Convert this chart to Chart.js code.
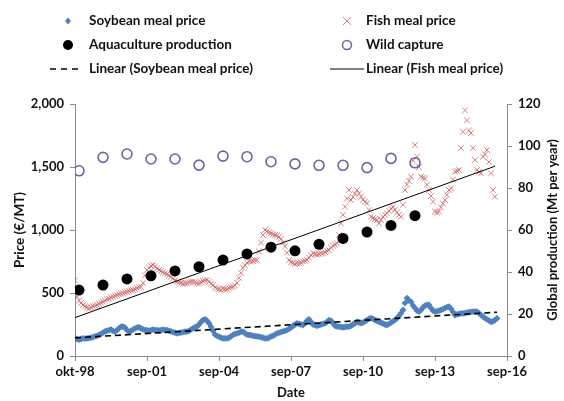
<!DOCTYPE html>
<html>
<head>
<meta charset="utf-8">
<script src="https://cdn.jsdelivr.net/npm/chart.js@4"></script>
<style>
html,body{margin:0;padding:0;background:#fff;}
#wrap{position:relative;width:564px;height:401px;}
</style>
</head>
<body>
<div id="wrap"><canvas id="c" width="564" height="401"></canvas></div>
<script>
// ---- data (monthly index 0 = okt-98) ----
const xTickLabels = ['okt-98','sep-01','sep-04','sep-07','sep-10','sep-13','sep-16'];

const soybeanPrice = [
 140,135,130,135,140,138,140,142,145,150,155,160,
 167,175,185,195,200,206,210,200,193,205,220,233,
 233,225,205,193,200,210,220,225,228,220,212,206,
 206,200,205,210,206,206,203,205,210,206,206,200,
 195,190,185,180,183,185,190,193,193,200,210,220,
 228,233,250,270,285,291,280,260,233,200,170,160,
 153,145,140,140,140,145,155,167,175,180,185,193,
 193,180,170,167,165,160,158,155,153,150,145,140,
 140,145,155,160,170,180,185,190,195,200,206,215,
 225,240,250,259,255,250,246,260,280,291,270,250,
 246,240,245,250,255,259,270,285,280,260,240,235,
 233,230,228,230,233,233,240,250,260,272,266,262,
 265,275,285,295,301,295,285,278,272,265,258,250,
 246,255,265,275,286,300,320,340,365,420,460,440,
 431,400,380,360,352,365,385,400,405,405,380,360,
 352,355,360,365,372,380,388,391,375,350,325,330,
 335,338,339,340,345,348,350,352,352,352,340,325,
 312,300,290,280,272,275,285,299
];

const fishmealPrice = [
 600,470,440,420,405,395,385,378,385,395,400,405,
 415,425,431,440,450,455,465,471,478,485,490,495,
 497,505,510,515,520,524,530,538,545,550,580,640,
 683,700,715,722,710,695,683,675,665,656,650,640,
 629,615,600,590,585,580,575,577,577,585,590,590,
 585,577,577,585,595,600,603,590,575,563,545,535,
 530,525,535,530,530,540,545,550,560,580,620,660,
 700,720,740,750,750,755,760,760,830,900,960,1000,
 990,980,975,965,960,955,945,930,900,870,820,760,
 745,740,730,735,736,740,750,755,762,780,800,815,
 810,805,810,815,815,825,835,841,860,875,885,894,
 960,1053,1120,1185,1250,1317,1238,1260,1290,1317,1290,1264,
 1240,1225,1212,1160,1106,1095,1085,1079,1053,1080,1105,1120,
 1133,1150,1170,1185,1160,1140,1120,1106,1200,1317,1360,1390,
 1423,1550,1675,1582,1500,1423,1415,1410,1360,1317,1270,1225,
 1146,1140,1146,1180,1210,1238,1280,1317,1330,1400,1463,1470,
 1476,1650,1780,1950,1870,1790,1770,1650,1556,1476,1460,1450,
 1582,1600,1635,1540,1450,1317,1264
];

// annual points (1998..2012), Mt per year
const annualMonthIndex = [2,14,26,38,50,62,74,86,98,110,122,134,146,158,170];
const aquaculture = [31.4,33.8,36.7,38.2,40.5,42.5,45.7,48.6,51.8,50.1,53.2,56.0,59.0,62.2,66.8];
const wildCapture = [88.2,94.6,96.2,93.8,93.8,90.9,95.2,94.9,92.5,91.5,90.8,90.8,89.7,94.1,92.0];

// ---- helpers ----
function pts(arr){ return arr.map((v,i)=>({x:i,y:v})); }
function annualPts(arr){ return arr.map((v,i)=>({x:annualMonthIndex[i],y:v})); }
function linFit(arr){
  const n=arr.length; let sx=0,sy=0,sxx=0,sxy=0;
  arr.forEach((y,x)=>{sx+=x;sy+=y;sxx+=x*x;sxy+=x*y;});
  const b=(n*sxy-sx*sy)/(n*sxx-sx*sx), a=(sy-b*sx)/n;
  return [{x:0,y:a},{x:n-1,y:a+b*(n-1)}];
}

const FONT = 'Lato, "Open Sans", sans-serif';
const BLUE = '#4f81bd', RED = 'rgba(200,90,88,0.75)', PURPLE = '#7360a0';

const legendItems = [
  {col:0,row:0,text:'Soybean meal price',kind:'diamond'},
  {col:1,row:0,text:'Fish meal price',kind:'cross'},
  {col:0,row:1,text:'Aquaculture production',kind:'dot'},
  {col:1,row:1,text:'Wild capture',kind:'ring'},
  {col:0,row:2,text:'Linear (Soybean meal price)',kind:'dash'},
  {col:1,row:2,text:'Linear (Fish meal price)',kind:'solid'}
];

const customDraw = {
  id:'customDraw',
  afterDraw(chart){
    const ctx = chart.ctx;
    ctx.save();
    // legend
    const colMarker=[68,347], colText=[89,366], rowY=[21,45,69];
    ctx.font = 'bold 13.5px '+FONT;
    ctx.textBaseline='middle';
    ctx.fillStyle='#111';
    legendItems.forEach(it=>{
      const mx=colMarker[it.col], y=rowY[it.row];
      ctx.save();
      if(it.kind==='diamond'){
        ctx.fillStyle=BLUE; ctx.beginPath();
        ctx.moveTo(mx,y-3.5);ctx.lineTo(mx+3,y);ctx.lineTo(mx,y+3.5);ctx.lineTo(mx-3,y);ctx.closePath();ctx.fill();
      } else if(it.kind==='cross'){
        ctx.strokeStyle=RED; ctx.lineWidth=1; ctx.beginPath();
        ctx.moveTo(mx-4,y-4);ctx.lineTo(mx+4,y+4);ctx.moveTo(mx+4,y-4);ctx.lineTo(mx-4,y+4);ctx.stroke();
      } else if(it.kind==='dot'){
        ctx.fillStyle='#000'; ctx.beginPath(); ctx.arc(mx,y,5,0,Math.PI*2); ctx.fill();
      } else if(it.kind==='ring'){
        ctx.strokeStyle=PURPLE; ctx.lineWidth=1.5; ctx.beginPath(); ctx.arc(mx,y,4.5,0,Math.PI*2); ctx.stroke();
      } else if(it.kind==='dash'){
        ctx.strokeStyle='#000'; ctx.lineWidth=1.5; ctx.setLineDash([6,5]); ctx.beginPath();
        ctx.moveTo(50,y);ctx.lineTo(82,y);ctx.stroke();
      } else if(it.kind==='solid'){
        ctx.strokeStyle='#000'; ctx.lineWidth=1; ctx.beginPath();
        ctx.moveTo(330,y);ctx.lineTo(364,y);ctx.stroke();
      }
      ctx.restore();
      ctx.fillStyle='#111';
      ctx.textAlign='left';
      ctx.fillText(it.text, colText[it.col], y);
    });
    // right axis title (reads bottom-to-top)
    const ca = chart.chartArea;
    ctx.translate(553,(ca.top+ca.bottom)/2);
    ctx.rotate(-Math.PI/2);
    ctx.textAlign='center';
    ctx.font='bold 13px '+FONT;
    ctx.fillText('Global production (Mt per year)',0,0);
    ctx.restore();
  }
};

const axisCommon = {
  border:{display:true,color:'#8c8c8c',width:1},
  grid:{display:true,drawOnChartArea:false,drawTicks:true,tickLength:5,color:'#8c8c8c'},
};

new Chart(document.getElementById('c'),{
  type:'scatter',
  data:{datasets:[
    {label:'Linear (Soybean meal price)',type:'line',data:linFit(soybeanPrice),yAxisID:'y',
     borderColor:'#000',borderWidth:1.6,borderDash:[6,4],pointRadius:0,fill:false,order:0},
    {label:'Linear (Fish meal price)',type:'line',data:linFit(fishmealPrice),yAxisID:'y',
     borderColor:'#000',borderWidth:1,pointRadius:0,fill:false,order:0},
    {label:'Aquaculture production',data:annualPts(aquaculture),yAxisID:'y2',
     pointStyle:'circle',pointRadius:5.5,backgroundColor:'#000',borderColor:'#000',borderWidth:0,order:1},
    {label:'Wild capture',data:annualPts(wildCapture),yAxisID:'y2',
     pointStyle:'circle',pointRadius:5,backgroundColor:'rgba(0,0,0,0)',borderColor:PURPLE,borderWidth:1.6,order:1},
    {label:'Soybean meal price',data:pts(soybeanPrice),yAxisID:'y',
     pointStyle:'rectRot',pointRadius:3.4,backgroundColor:BLUE,borderColor:BLUE,borderWidth:0,order:2},
    {label:'Fish meal price',data:pts(fishmealPrice),yAxisID:'y',
     pointStyle:'crossRot',pointRadius:4,backgroundColor:RED,borderColor:RED,borderWidth:1,order:3}
  ]},
  options:{
    responsive:false,animation:false,
    layout:{padding:{top:104,left:0,right:0,bottom:0}},
    plugins:{legend:{display:false},tooltip:{enabled:false}},
    scales:{
      x:{type:'linear',min:0,max:216,
        ...axisCommon,
        afterFit(s){s.height=45;},
        afterBuildTicks(s){s.ticks=xTickLabels.map((l,i)=>({value:i*36}));},
        ticks:{autoSkip:false,maxRotation:0,color:'#111',font:{family:FONT,size:13,weight:'bold'},padding:3,
          callback:(v)=>xTickLabels[Math.round(v/36)]},
        title:{display:true,text:'Date',color:'#111',font:{family:FONT,size:13,weight:'bold'},padding:{top:3,bottom:0}}
      },
      y:{position:'left',min:0,max:2000,
        ...axisCommon,
        afterFit(s){s.width=75;},
        ticks:{stepSize:500,color:'#111',font:{family:FONT,size:13,weight:'bold'},padding:6,
          callback:(v)=>v.toLocaleString('en-US')},
        title:{display:true,text:'Price (€/MT)',color:'#111',font:{family:FONT,size:13.5,weight:'bold'},padding:{top:12,bottom:0}}
      },
      y2:{position:'right',min:0,max:120,
        ...axisCommon,
        afterFit(s){s.width=57;},
        ticks:{stepSize:20,color:'#111',font:{family:FONT,size:13,weight:'bold'},padding:6},
        title:{display:false}
      }
    }
  },
  plugins:[customDraw]
});
</script>
</body>
</html>
